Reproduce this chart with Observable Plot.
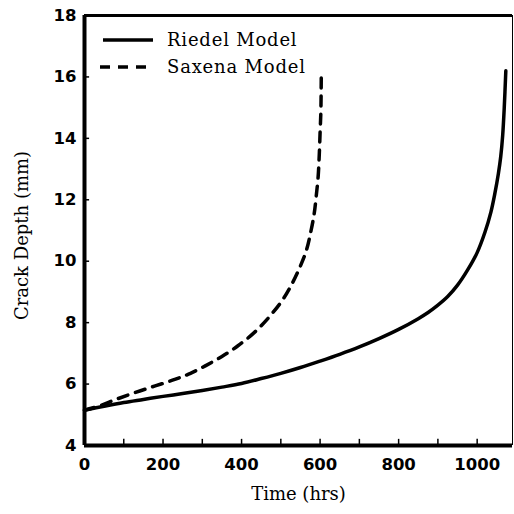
<!DOCTYPE html>
<html><head><meta charset="utf-8">
<script src="https://cdn.jsdelivr.net/npm/d3@7"></script>
<script src="https://cdn.jsdelivr.net/npm/@observablehq/plot@0.6"></script>
<style>
body{margin:0;background:#fff}
#wrap{position:relative;width:514px;height:514px}
#legend{position:absolute;left:0;top:0;pointer-events:none}
</style>
</head><body><div id="wrap"></div>
<script>
// Riedel Model (solid)
const riedelTime  = [0, 50, 100, 150, 200, 250, 300, 350, 400, 450, 500, 550, 600, 650, 700, 750, 800, 850, 875, 900, 925, 950, 975, 1000, 1020, 1035, 1045, 1054, 1060, 1065, 1069, 1073];
const riedelDepth = [5.15, 5.28, 5.40, 5.50, 5.60, 5.69, 5.79, 5.90, 6.02, 6.18, 6.35, 6.54, 6.75, 6.97, 7.21, 7.48, 7.78, 8.13, 8.33, 8.57, 8.85, 9.22, 9.70, 10.28, 10.95, 11.6, 12.2, 12.85, 13.4, 14.1, 15.0, 16.2];
// Saxena Model (dashed)
const saxenaTime  = [0, 40, 80, 130, 180, 230, 270, 310, 350, 390, 430, 470, 505, 530, 550, 565, 577, 585, 590, 595, 598, 600, 602, 603];
const saxenaDepth = [5.15, 5.30, 5.50, 5.73, 5.94, 6.15, 6.35, 6.61, 6.90, 7.24, 7.65, 8.18, 8.75, 9.30, 9.85, 10.35, 11.0, 11.55, 12.1, 12.75, 13.5, 14.2, 14.9, 16.1];

const xTicks = [0, 200, 400, 600, 800, 1000];
const xMinorTicks = [100, 200, 300, 400, 500, 600, 700, 800, 900, 1000];
const yTicks = [4, 6, 8, 10, 12, 14, 16, 18];
const seriesNames = ["Riedel Model", "Saxena Model"];
const xTitle = "Time (hrs)";
const yTitle = "Crack Depth (mm)";

const riedel = riedelTime.map((t, i) => ({t, d: riedelDepth[i]}));
const saxena = saxenaTime.map((t, i) => ({t, d: saxenaDepth[i]}));

const serif = "DejaVu Serif";
const sans = "DejaVu Sans";

const chart = Plot.plot({
  width: 514, height: 514,
  marginLeft: 84, marginRight: 2, marginTop: 15, marginBottom: 69,
  x: {domain: [0, 1090]},
  y: {domain: [4, 18]},
  style: {background: "#fff", color: "#000"},
  marks: [
    Plot.axisX({ticks: xTicks, tickFormat: d => String(d), tickSize: 0, tickPadding: 13, fontSize: 16.5, fontFamily: sans, fontWeight: "bold", fill: "#000", label: null}),
    Plot.axisY({ticks: yTicks, tickFormat: d => String(d), tickSize: 0, tickPadding: 8, fontSize: 16.5, fontFamily: sans, fontWeight: "bold", fill: "#000", label: null}),
    Plot.ruleX(xMinorTicks, {y1: 4, y2: 4.2, strokeWidth: 1.5, stroke: "#000"}),
    Plot.ruleY(yTicks.slice(1, -1), {x1: 0, x2: 13, strokeWidth: 1.5, stroke: "#000"}),
    Plot.ruleY([4], {strokeWidth: 4, stroke: "#000"}),
    Plot.ruleX([0], {strokeWidth: 4, stroke: "#000"}),
    Plot.ruleY([18], {strokeWidth: 3, stroke: "#000"}),
    Plot.ruleX([1090], {strokeWidth: 1, stroke: "#000"}),
    Plot.line(riedel, {x: "t", y: "d", stroke: "#000", strokeWidth: 3.5, curve: "catmull-rom"}),
    Plot.line(saxena, {x: "t", y: "d", stroke: "#000", strokeWidth: 3.5, curve: "catmull-rom", strokeDasharray: "10,8"}),
    Plot.text([xTitle], {text: d => d, frameAnchor: "bottom", dy: 54, fontFamily: serif, fontSize: 18, textAnchor: "middle", fill: "#000"}),
    Plot.text([yTitle], {text: d => d, frameAnchor: "left", dx: -62, dy: 5, rotate: -90, fontFamily: serif, fontSize: 18, textAnchor: "middle", fill: "#000"})
  ]
});
const wrap = document.getElementById("wrap");
wrap.appendChild(chart);

// legend overlay
const ns = "http://www.w3.org/2000/svg";
const lg = document.createElementNS(ns, "svg");
lg.setAttribute("id", "legend");
lg.setAttribute("width", 514);
lg.setAttribute("height", 514);
const rows = [
  {name: seriesNames[0], y: 40, x1: 103, dash: null},
  {name: seriesNames[1], y: 67, x1: 100, dash: "10,8"}
];
for (const r of rows) {
  const l = document.createElementNS(ns, "line");
  l.setAttribute("x1", r.x1); l.setAttribute("x2", 153);
  l.setAttribute("y1", r.y); l.setAttribute("y2", r.y);
  l.setAttribute("stroke", "#000"); l.setAttribute("stroke-width", 3.5);
  if (r.dash) l.setAttribute("stroke-dasharray", r.dash);
  lg.appendChild(l);
  const t = document.createElementNS(ns, "text");
  t.setAttribute("x", 167); t.setAttribute("y", r.y + 6);
  t.setAttribute("font-family", serif); t.setAttribute("font-size", 18);
  t.setAttribute("letter-spacing", "0.8");
  t.setAttribute("fill", "#000");
  t.textContent = r.name;
  lg.appendChild(t);
}
wrap.appendChild(lg);
</script>
</body></html>
